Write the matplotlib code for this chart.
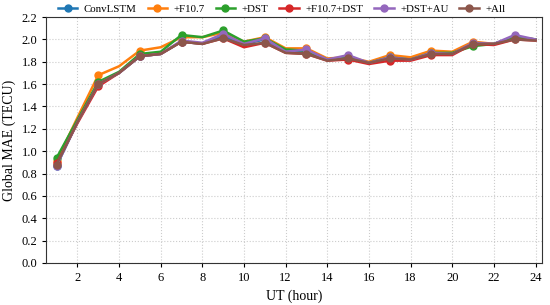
import numpy as np
import matplotlib
matplotlib.use("Agg")
import matplotlib.pyplot as plt

plt.rcParams['font.family'] = ['Liberation Serif', 'DejaVu Serif']

hours = np.arange(1, 25)
names = ['ConvLSTM', '+F10.7', '+DST', '+F10.7+DST', '+DST+AU', '+All']

convlstm = [0.87, 1.26, 1.60, 1.70, 1.85, 1.87, 1.98, 1.96, 2.03, 1.96, 2.00, 1.89,
            1.89, 1.82, 1.83, 1.79, 1.84, 1.82, 1.88, 1.87, 1.96, 1.96, 2.02, 2.00]
f107 = [0.91, 1.30, 1.68, 1.76, 1.90, 1.93, 2.02, 2.02, 2.06, 1.98, 2.02, 1.92,
        1.92, 1.83, 1.84, 1.80, 1.86, 1.84, 1.90, 1.89, 1.98, 1.96, 2.02, 2.00]
dst = [0.94, 1.28, 1.62, 1.71, 1.87, 1.89, 2.04, 2.02, 2.08, 1.98, 2.01, 1.91,
       1.90, 1.82, 1.84, 1.79, 1.84, 1.82, 1.88, 1.88, 1.94, 1.96, 2.02, 2.00]
f107_dst = [0.89, 1.25, 1.58, 1.70, 1.85, 1.87, 1.98, 1.96, 2.01, 1.93, 1.97, 1.88,
            1.87, 1.81, 1.82, 1.78, 1.81, 1.81, 1.86, 1.86, 1.96, 1.95, 2.00, 1.99]
dst_au = [0.87, 1.26, 1.60, 1.70, 1.85, 1.87, 1.99, 1.97, 2.05, 1.96, 2.01, 1.89,
          1.91, 1.82, 1.86, 1.79, 1.84, 1.82, 1.88, 1.87, 1.97, 1.96, 2.04, 2.00]
all_ = [0.88, 1.26, 1.60, 1.70, 1.85, 1.87, 1.98, 1.96, 2.01, 1.95, 1.97, 1.88,
        1.87, 1.81, 1.83, 1.79, 1.83, 1.82, 1.87, 1.87, 1.96, 1.96, 2.00, 1.99]
series = [convlstm, f107, dst, f107_dst, dst_au, all_]

fig = plt.figure(figsize=(5.5, 3.05), dpi=100)
ax = fig.add_axes([0.084, 0.138, 0.901, 0.806])

for name, vals in zip(names, series):
    ax.plot(hours, vals, marker='o', markersize=5, markevery=2, linewidth=1.8, label=name)

ax.set_xlim(0.5, 24.3)
ax.set_ylim(0.0, 2.2)
ax.set_xticks(np.arange(2, 25, 2))
ax.set_yticks(np.arange(0, 2.21, 0.2))
ax.set_yticklabels(['%.1f' % v for v in np.arange(0, 2.21, 0.2)])
ax.tick_params(labelsize=9, length=3)
ax.grid(True, linestyle=':', color='#cccccc', linewidth=0.8)
for s in ax.spines.values():
    s.set_color('#333333')
ax.set_xlabel('UT (hour)', fontsize=10)
ax.set_ylabel('Global MAE (TECU)', fontsize=10)
ax.legend(loc='lower center', bbox_to_anchor=(0.475, 0.99), ncol=6, frameon=False,
          fontsize=7.8, handlelength=1.8, handletextpad=0.6, columnspacing=1.0,
          borderaxespad=0.1)

fig.savefig('out.png', dpi=100)
